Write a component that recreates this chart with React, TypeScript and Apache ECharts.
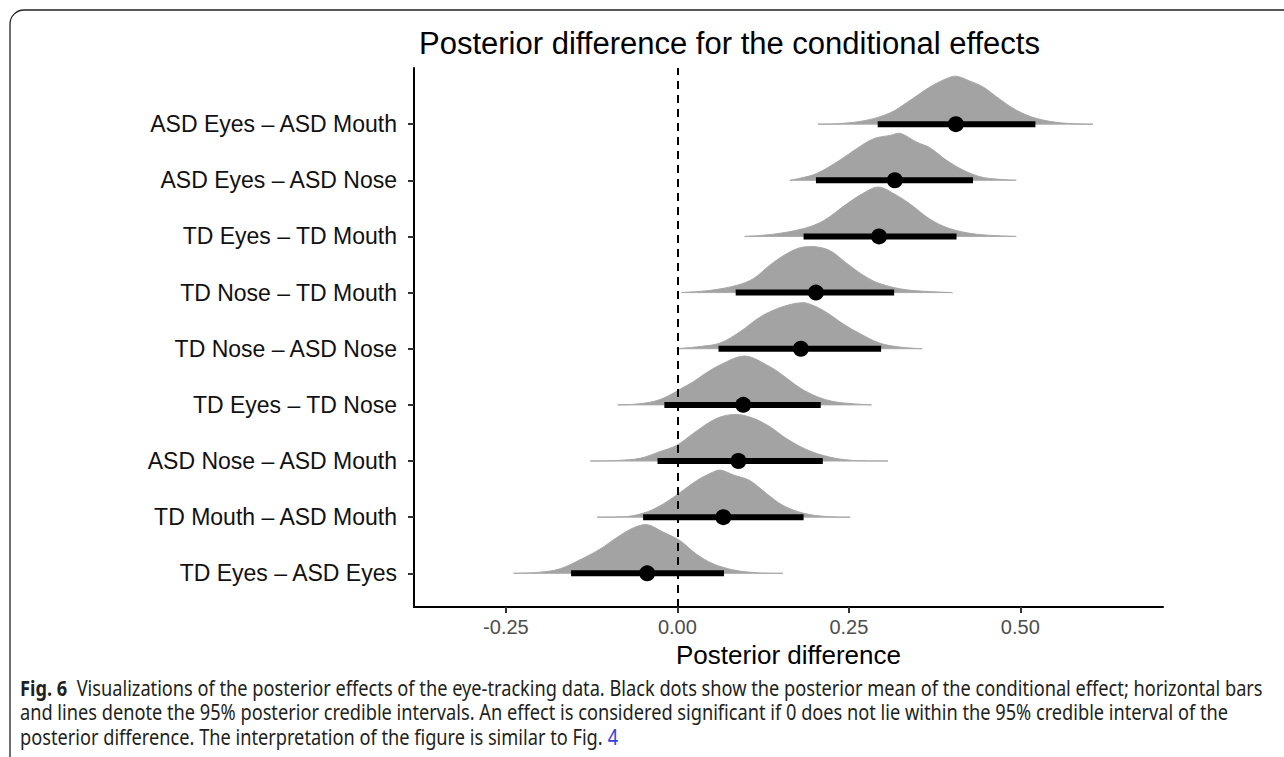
import { useEffect, useRef } from "react";
import * as echarts from "echarts";

// Categories from bottom (1) to top (9)
const CATEGORIES = [
  "TD Eyes – ASD Eyes",
  "TD Mouth – ASD Mouth",
  "ASD Nose – ASD Mouth",
  "TD Eyes – TD Nose",
  "TD Nose – ASD Nose",
  "TD Nose – TD Mouth",
  "TD Eyes – TD Mouth",
  "ASD Eyes – ASD Nose",
  "ASD Eyes – ASD Mouth",
];

const MEANS = [-0.044, 0.067, 0.089, 0.096, 0.18, 0.202, 0.294, 0.317, 0.406];
const CI_LOW = [-0.155, -0.05, -0.029, -0.019, 0.06, 0.085, 0.184, 0.202, 0.292];
const CI_HIGH = [0.068, 0.184, 0.212, 0.209, 0.297, 0.316, 0.407, 0.431, 0.522];

// density outlines: [x, height in category units]
const DENSITY_TD_EYES_ASD_EYES = [[-0.239, 0], [-0.2, 0.02], [-0.171, 0.08], [-0.142, 0.24], [-0.113, 0.43], [-0.088, 0.64], [-0.064, 0.81], [-0.045, 0.87], [-0.02, 0.73], [0.004, 0.58], [0.028, 0.34], [0.052, 0.17], [0.082, 0.06], [0.116, 0.01], [0.154, 0]];
const DENSITY_TD_MOUTH_ASD_MOUTH = [[-0.117, 0], [-0.074, 0.01], [-0.045, 0.09], [-0.02, 0.24], [0.004, 0.44], [0.028, 0.65], [0.048, 0.78], [0.062, 0.84], [0.082, 0.75], [0.106, 0.65], [0.13, 0.42], [0.154, 0.21], [0.184, 0.07], [0.218, 0.01], [0.252, 0]];
const DENSITY_ASD_NOSE_ASD_MOUTH = [[-0.127, 0], [-0.088, 0.01], [-0.054, 0.05], [-0.025, 0.17], [-0.001, 0.28], [0.023, 0.49], [0.048, 0.7], [0.067, 0.8], [0.087, 0.83], [0.111, 0.76], [0.135, 0.61], [0.159, 0.4], [0.189, 0.2], [0.222, 0.07], [0.256, 0.01], [0.307, 0]];
const DENSITY_TD_EYES_TD_NOSE = [[-0.087, 0], [-0.064, 0.01], [-0.035, 0.06], [-0.015, 0.15], [0.004, 0.28], [0.023, 0.41], [0.042, 0.57], [0.062, 0.71], [0.098, 0.87], [0.135, 0.68], [0.15, 0.56], [0.161, 0.46], [0.179, 0.3], [0.203, 0.15], [0.227, 0.06], [0.256, 0.02], [0.283, 0]];
const DENSITY_TD_NOSE_ASD_NOSE = [[-0.001, 0], [0.033, 0.04], [0.062, 0.1], [0.091, 0.3], [0.12, 0.56], [0.145, 0.71], [0.169, 0.8], [0.186, 0.82], [0.213, 0.68], [0.242, 0.44], [0.266, 0.27], [0.295, 0.1], [0.324, 0.03], [0.357, 0]];
const DENSITY_TD_NOSE_TD_MOUTH = [[0.006, 0], [0.048, 0.04], [0.087, 0.13], [0.111, 0.25], [0.135, 0.49], [0.159, 0.69], [0.179, 0.8], [0.198, 0.82], [0.222, 0.75], [0.247, 0.52], [0.271, 0.31], [0.295, 0.16], [0.334, 0.05], [0.401, 0]];
const DENSITY_TD_EYES_TD_MOUTH = [[0.098, 0], [0.14, 0.04], [0.184, 0.14], [0.213, 0.28], [0.247, 0.58], [0.271, 0.77], [0.293, 0.88], [0.32, 0.73], [0.339, 0.58], [0.368, 0.31], [0.397, 0.14], [0.436, 0.04], [0.494, 0]];
const DENSITY_ASD_EYES_ASD_NOSE = [[0.164, 0], [0.18, 0.04], [0.203, 0.12], [0.237, 0.36], [0.261, 0.56], [0.286, 0.74], [0.31, 0.8], [0.324, 0.84], [0.349, 0.68], [0.368, 0.58], [0.392, 0.36], [0.417, 0.18], [0.446, 0.05], [0.494, 0]];
const DENSITY_ASD_EYES_ASD_MOUTH = [[0.205, 0], [0.237, 0.01], [0.276, 0.07], [0.31, 0.2], [0.334, 0.38], [0.368, 0.66], [0.392, 0.81], [0.406, 0.855], [0.426, 0.77], [0.446, 0.66], [0.465, 0.49], [0.494, 0.25], [0.524, 0.1], [0.562, 0.02], [0.606, 0]];

const DENSITIES = [
  DENSITY_TD_EYES_ASD_EYES,
  DENSITY_TD_MOUTH_ASD_MOUTH,
  DENSITY_ASD_NOSE_ASD_MOUTH,
  DENSITY_TD_EYES_TD_NOSE,
  DENSITY_TD_NOSE_ASD_NOSE,
  DENSITY_TD_NOSE_TD_MOUTH,
  DENSITY_TD_EYES_TD_MOUTH,
  DENSITY_ASD_EYES_ASD_NOSE,
  DENSITY_ASD_EYES_ASD_MOUTH,
];

const X_TICKS = [-0.25, 0, 0.25, 0.5];
const Y_TICKS = [1, 2, 3, 4, 5, 6, 7, 8, 9];
const X_MIN = -0.384;
const X_MAX = 0.708;
const Y_MIN = 0.4;
const Y_MAX = 10;

const TITLE = "Posterior difference for the conditional effects";
const X_NAME = "Posterior difference";
const CAPTION_BOLD = "Fig. 6";
const CAPTION_1 = "  Visualizations of the posterior effects of the eye-tracking data. Black dots show the posterior mean of the conditional effect; horizontal bars";
const CAPTION_2 = "and lines denote the 95% posterior credible intervals. An effect is considered significant if 0 does not lie within the 95% credible interval of the";
const CAPTION_3 = "posterior difference. The interpretation of the figure is similar to Fig. ";
const CAPTION_LINK = "4";

const FONT = "'Liberation Sans', Arial, Helvetica, sans-serif";
const CAP_FONT = "Noto Sans";
const CAP_SIZE = 21;

function measure(text: string, weight: string) {
  const c = document.createElement("canvas");
  const ctx = c.getContext("2d");
  if (!ctx) return text.length * CAP_SIZE * 0.5;
  ctx.font = `${weight} ${CAP_SIZE}px "${CAP_FONT}"`;
  return ctx.measureText(text).width;
}

export default function App() {
  const ref = useRef<HTMLDivElement>(null);

  useEffect(() => {
    document.body.style.margin = "0";
    if (!ref.current) return;
    const chart = echarts.init(ref.current, undefined, { renderer: "svg" });

    const line1W = measure(CAPTION_BOLD, "bold") + measure(CAPTION_1, "normal");
    const capScale = line1W > 0 ? 1243 / line1W : 1;

    const capStyle = (text: string, y: number) => ({
      type: "text",
      x: 20,
      y,
      scaleX: capScale,
      silent: true,
      style: {
        text,
        fontSize: CAP_SIZE,
        fontFamily: CAP_FONT,
        fill: "#231f20",
        verticalAlign: "middle",
        rich: {
          b: { fontWeight: "bold", fontSize: CAP_SIZE, fontFamily: CAP_FONT, fill: "#231f20" },
          l: { fontSize: CAP_SIZE, fontFamily: CAP_FONT, fill: "#3440d8" },
        },
      },
    });

    const option: any = {
      animation: false,
      backgroundColor: "#ffffff",
      title: {
        text: TITLE,
        left: 414,
        top: 23,
        textStyle: { fontFamily: FONT, fontSize: 31, fontWeight: "normal", color: "#000" },
      },
      grid: { left: 414, right: 121, top: 68, bottom: 150 },
      xAxis: {
        type: "value",
        min: X_MIN,
        max: X_MAX,
        name: X_NAME,
        nameLocation: "middle",
        nameGap: 34,
        nameTextStyle: { fontFamily: FONT, fontSize: 26, color: "#000" },
        splitLine: { show: false },
        axisLine: { show: true, onZero: false, lineStyle: { color: "#000", width: 2 } },
        axisTick: { show: true, length: 6, customValues: X_TICKS, lineStyle: { color: "#333", width: 2 } },
        axisLabel: {
          customValues: X_TICKS,
          formatter: (v: number) => v.toFixed(2),
          fontFamily: FONT,
          fontSize: 20,
          color: "#4d4d4d",
          margin: 10,
        },
      },
      yAxis: {
        type: "value",
        min: Y_MIN,
        max: Y_MAX,
        splitLine: { show: false },
        axisLine: { show: true, onZero: false, lineStyle: { color: "#000", width: 2 } },
        axisTick: { show: true, length: 6, customValues: Y_TICKS, lineStyle: { color: "#333", width: 2 } },
        axisLabel: {
          customValues: Y_TICKS,
          formatter: (v: number) => CATEGORIES[Math.round(v) - 1] ?? "",
          fontFamily: FONT,
          fontSize: 23,
          color: "#111",
          margin: 17,
        },
      },
      graphic: [
        {
          type: "rect",
          shape: { x: 10, y: 10, width: 1400, height: 900, r: [14, 0, 0, 0] },
          style: { fill: "none", stroke: "#222", lineWidth: 1.3 },
          silent: true,
        },
        capStyle(`{b|${CAPTION_BOLD}}${CAPTION_1}`, 688),
        capStyle(CAPTION_2, 712),
        capStyle(`${CAPTION_3}{l|${CAPTION_LINK}}`, 737),
      ],
      series: [
        {
          type: "custom",
          name: "density",
          z: 1,
          encode: { x: 0, y: 1 },
          data: CATEGORIES.map((_, i) => [MEANS[i], i + 1]),
          renderItem: (params: any, api: any) => {
            const i = params.dataIndex;
            const cat = i + 1;
            const pts = DENSITIES[i].map((p) => api.coord([p[0], cat + p[1]]));
            let minX = Infinity, minY = Infinity, maxX = -Infinity, maxY = -Infinity;
            pts.forEach((q: number[]) => {
              minX = Math.min(minX, q[0]);
              maxX = Math.max(maxX, q[0]);
              minY = Math.min(minY, q[1]);
              maxY = Math.max(maxY, q[1]);
            });
            return {
              type: "polygon",
              shape: { points: pts, smooth: 0.35, smoothConstraint: [[minX, minY], [maxX, maxY]] },
              style: { fill: "#a3a3a3", stroke: "#a9a9a9", lineWidth: 1 },
            };
          },
        },
        {
          type: "custom",
          name: "interval",
          z: 2,
          encode: { x: [0, 1], y: 2 },
          data: CATEGORIES.map((_, i) => [CI_LOW[i], CI_HIGH[i], i + 1]),
          renderItem: (_params: any, api: any) => {
            const a = api.coord([api.value(0), api.value(2)]);
            const b = api.coord([api.value(1), api.value(2)]);
            return {
              type: "line",
              shape: { x1: a[0], y1: a[1], x2: b[0], y2: b[1] },
              style: { stroke: "#000", lineWidth: 6 },
            };
          },
        },
        {
          type: "scatter",
          name: "mean",
          z: 3,
          symbol: "circle",
          symbolSize: 16,
          itemStyle: { color: "#000", opacity: 1 },
          data: CATEGORIES.map((_, i) => [MEANS[i], i + 1]),
          markLine: {
            silent: true,
            symbol: ["none", "none"],
            label: { show: false },
            lineStyle: { color: "#000", width: 2, type: [8, 6], opacity: 1 },
            data: [{ xAxis: 0 }],
          },
        },
      ],
    };

    chart.setOption(option);
    return () => chart.dispose();
  }, []);

  return <div ref={ref} style={{ width: 1284, height: 757 }} />;
}
